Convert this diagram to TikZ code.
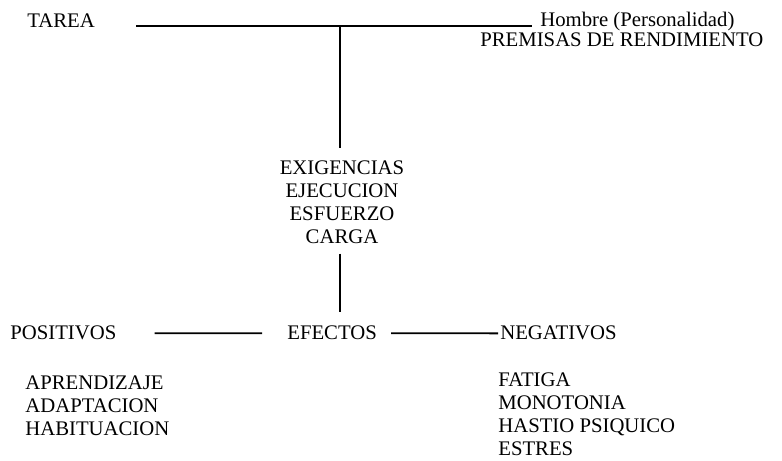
\documentclass[tikz,border=0pt]{standalone}
\usepackage{fontspec}
\setmainfont{Liberation Serif}
\usetikzlibrary{positioning,calc}

\begin{document}
\begin{tikzpicture}[
    txt/.style={inner sep=0pt, font=\fontsize{11.8}{13.1}\selectfont},
    listbox/.style={txt, align=left, anchor=north west},
    link/.style={line width=1.1pt}
]

\useasboundingbox (0,0) rectangle (15.64,-9.22);

% Top row
\node[txt, anchor=base west] (tarea) at (0.54,-0.56) {TAREA};
\node[txt, anchor=base west] (hombre) at (10.8,-0.54) {Hombre (Personalidad)};
\node[txt, anchor=base west] (premisas) at (9.6,-0.94) {PREMISAS DE RENDIMIENTO};
\coordinate (tjoin) at (6.8,-0.52);

% Middle stack
\node[txt, align=center, anchor=north] (stack) at (6.84,-3.2) {EXIGENCIAS\\EJECUCION\\ESFUERZO\\CARGA};

% Effects row
\node[txt, anchor=base west] (positivos) at (0.2,-6.8) {POSITIVOS};
\node[txt, anchor=base west] (efectos) at (5.74,-6.8) {EFECTOS};
\node[txt, anchor=base west] (negativos) at (10.0,-6.8) {NEGATIVOS};

% Lists
\node[listbox] (poslist) at (0.5,-7.5) {APRENDIZAJE\\ADAPTACION\\HABITUACION};
\node[listbox] (neglist) at (9.96,-7.44) {FATIGA\\MONOTONIA\\HASTIO PSIQUICO\\ESTRES};

% Lines
\draw[link, shorten <=0.82cm, shorten >=0.16cm] (tarea.east |- tjoin) -- (hombre.west |- tjoin);
\draw[link, shorten >=0.24cm] (tjoin) -- (tjoin |- stack.north);
\draw[link, shorten <=0.2cm, shorten >=0.28cm] (tjoin |- stack.south) -- (tjoin |- efectos.north);
\draw[link, shorten <=0.76cm, shorten >=0.5cm] (positivos.east) -- (efectos.west);
\draw[link, shorten <=0.28cm, shorten >=0.04cm] (efectos.east) -- (negativos.west);

\end{tikzpicture}
\end{document}
